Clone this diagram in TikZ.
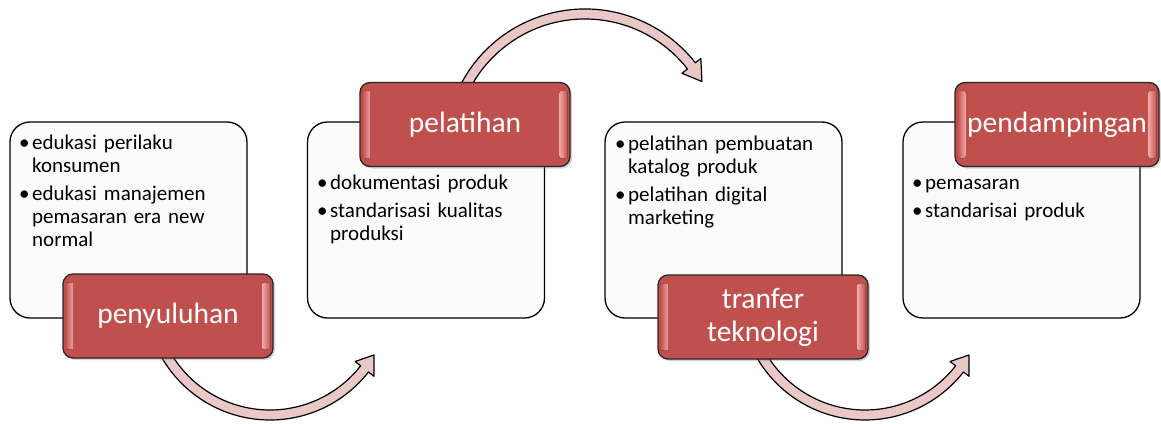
\documentclass[tikz,border=0pt]{standalone}
\usepackage{fontspec}
\setmainfont{Carlito}
\usetikzlibrary{shadows}
\usetikzlibrary{backgrounds}
\definecolor{boxred}{RGB}{192,80,77}
\definecolor{glosspink}{RGB}{238,165,162}
\definecolor{arrowpink}{RGB}{234,200,200}
\tikzstyle{card}=[draw=black, line width=1.3pt, rounded corners=20pt, fill=gray!3, minimum width=237pt, minimum height=196pt, inner sep=0pt]
\tikzstyle{redtag}=[draw=black!85, line width=1.3pt, rounded corners=10pt, fill=boxred, text=white, minimum width=210pt, minimum height=84pt, inner sep=2pt, align=center, font=\fontsize{29.5}{33}\selectfont, drop shadow={shadow xshift=2pt, shadow yshift=-2pt, opacity=0.35}]
\tikzstyle{bullets}=[anchor=north west, inner sep=0pt, text width=230pt, font=\fontsize{21}{23}\selectfont\setlength{\parskip}{5pt}\setlength{\parindent}{0pt}]
\tikzstyle{curvedarrow}=[draw=black, line width=1.2pt, fill=arrowpink, line join=round]
\tikzstyle{glossl}=[left color=boxred, right color=glosspink, rounded corners=2pt]
\tikzstyle{glossr}=[left color=glosspink, right color=boxred, rounded corners=2pt]
\newcommand{\pitem}[1]{\hangindent=13pt\hangafter=1\noindent\makebox[13pt][l]{\textbullet}#1\par}
% #1 centre, #2 start angle, #3 end of shaft, #4 tip angle, #5 radius
\newcommand{\bentarrow}[5]{%
  \draw[curvedarrow] ([shift={(#2:#5+5pt)}]#1) arc[start angle=#2, end angle=#3, radius=#5+5pt]
    -- ([shift={(#3:#5+12pt)}]#1) -- ([shift={(#4:#5)}]#1) -- ([shift={(#3:#5-12pt)}]#1)
    -- ([shift={(#3:#5-5pt)}]#1) arc[start angle=#3, end angle=#2, radius=#5-5pt] -- cycle;}
\begin{document}
\begin{tikzpicture}[x=1pt, y=1pt]
	\useasboundingbox (0,0) rectangle (1161,-423);
	% white cards
	\node[card] (b1) at (128.5,-220) {};
	\node[card] (b2) at (426,-220) {};
	\node[card] (b3) at (723.5,-220) {};
	\node[card] (b4) at (1021.5,-220) {};
	% bullet lists
	\node[bullets] (t1) at (19,-135) {\pitem{edukasi perilaku\newline konsumen}\pitem{edukasi manajemen\newline pemasaran era new\newline normal}};
	\node[bullets] (t2) at (317,-175) {\pitem{dokumentasi produk}\pitem{standarisasi kualitas\newline produksi}};
	\node[bullets] (t3) at (615,-136) {\pitem{pelatihan pembuatan\newline katalog produk}\pitem{pelatihan digital\newline marketing}};
	\node[bullets] (t4) at (912,-179) {\pitem{pemasaran}\pitem{standarisai produk}};
	% red headings
	\node[redtag] (r1) at (168,-316) {penyuluhan};
	\node[redtag] (r2) at (465,-124.5) {pelatihan};
	\node[redtag] (r3) at (763,-317) {tranfer\\teknologi};
	\node[redtag, minimum width=204pt] (r4) at (1057,-124.5) {pendampingan};
	\foreach \r in {r1,r2,r3,r4}{
		\fill[glossl] ([xshift=3pt,yshift=-9pt]\r.north west) rectangle ([xshift=11pt,yshift=9pt]\r.south west);
		\fill[glossr] ([xshift=-11pt,yshift=-9pt]\r.north east) rectangle ([xshift=-3pt,yshift=9pt]\r.south east);
	}
	% curved arrows behind the headings
	\begin{scope}[on background layer]
		\coordinate (c1) at ([shift={(102,21)}]r1.center);
		\coordinate (c2) at ([shift={(120,-24.5)}]r2.center);
		\coordinate (c3) at ([shift={(102,22)}]r3.center);
		\bentarrow{c1}{208}{322}{330}{120pt}
		\bentarrow{c2}{154}{38}{30}{135pt}
		\bentarrow{c3}{208}{322}{330}{120pt}
	\end{scope}
\end{tikzpicture}
\end{document}
